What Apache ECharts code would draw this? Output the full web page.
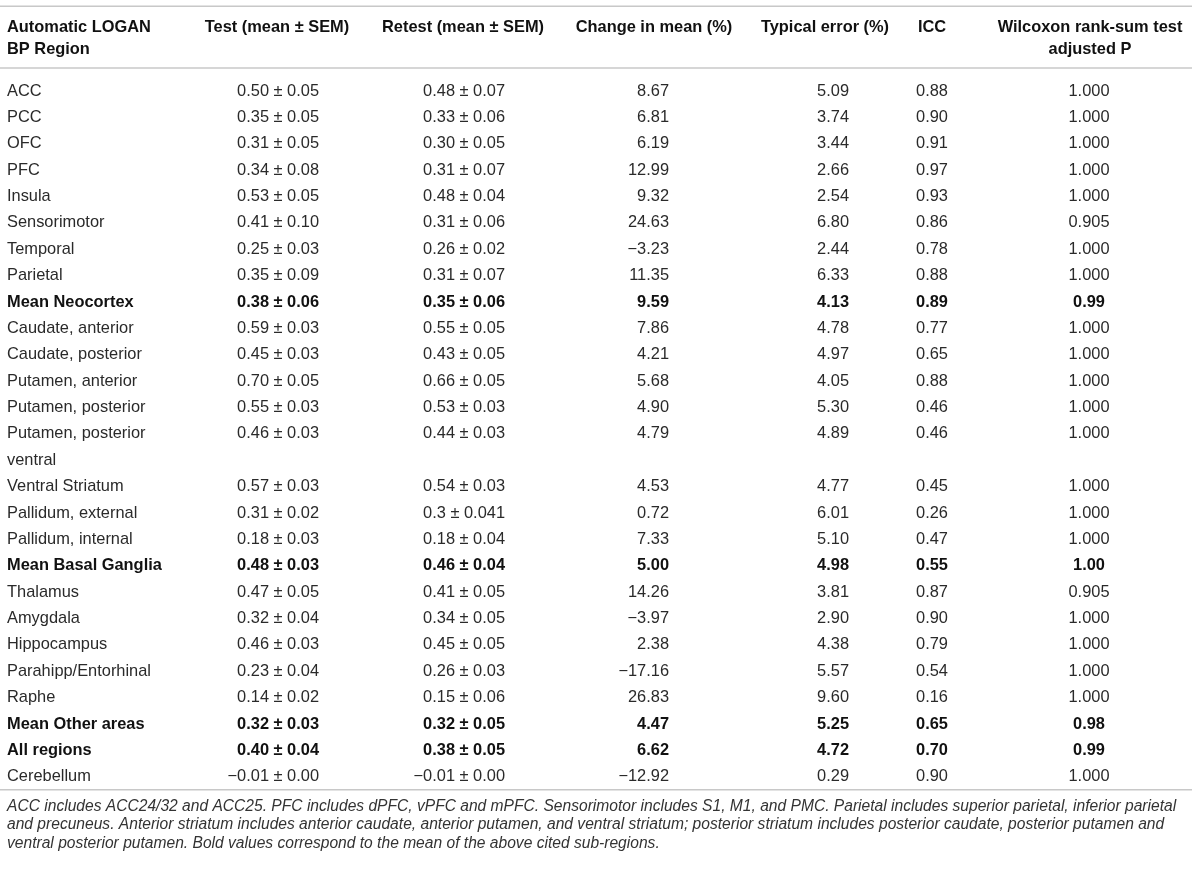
<!DOCTYPE html>
<html lang="en">
  <head>
    <meta charset="UTF-8" />
    <title>LOGAN BP test-retest</title>
    <script src="https://cdn.jsdelivr.net/npm/echarts@6/dist/echarts.min.js"></script>
    <style>
      html, body { margin: 0; padding: 0; background: #fff; }
      #main { width: 1200px; height: 870px; }
    </style>
  </head>
  <body>
    <div id="main"></div>
    <script type="text/javascript">
      // table content
      var headers = [
        "Automatic LOGAN\nBP Region",
        "Test (mean ± SEM)",
        "Retest (mean ± SEM)",
        "Change in mean (%)",
        "Typical error (%)",
        "ICC",
        "Wilcoxon rank-sum test\nadjusted P"
      ];
      var regions = [
        "ACC", "PCC", "OFC", "PFC", "Insula", "Sensorimotor", "Temporal", "Parietal",
        "Mean Neocortex", "Caudate, anterior", "Caudate, posterior", "Putamen, anterior",
        "Putamen, posterior", "Putamen, posterior\nventral", "Ventral Striatum",
        "Pallidum, external", "Pallidum, internal", "Mean Basal Ganglia", "Thalamus",
        "Amygdala", "Hippocampus", "Parahipp/Entorhinal", "Raphe", "Mean Other areas",
        "All regions", "Cerebellum"
      ];
      var testVals = [
        "0.50 ± 0.05", "0.35 ± 0.05", "0.31 ± 0.05", "0.34 ± 0.08", "0.53 ± 0.05",
        "0.41 ± 0.10", "0.25 ± 0.03", "0.35 ± 0.09", "0.38 ± 0.06", "0.59 ± 0.03",
        "0.45 ± 0.03", "0.70 ± 0.05", "0.55 ± 0.03", "0.46 ± 0.03", "0.57 ± 0.03",
        "0.31 ± 0.02", "0.18 ± 0.03", "0.48 ± 0.03", "0.47 ± 0.05", "0.32 ± 0.04",
        "0.46 ± 0.03", "0.23 ± 0.04", "0.14 ± 0.02", "0.32 ± 0.03", "0.40 ± 0.04",
        "−0.01 ± 0.00"
      ];
      var retestVals = [
        "0.48 ± 0.07", "0.33 ± 0.06", "0.30 ± 0.05", "0.31 ± 0.07", "0.48 ± 0.04",
        "0.31 ± 0.06", "0.26 ± 0.02", "0.31 ± 0.07", "0.35 ± 0.06", "0.55 ± 0.05",
        "0.43 ± 0.05", "0.66 ± 0.05", "0.53 ± 0.03", "0.44 ± 0.03", "0.54 ± 0.03",
        "0.3 ± 0.041", "0.18 ± 0.04", "0.46 ± 0.04", "0.41 ± 0.05", "0.34 ± 0.05",
        "0.45 ± 0.05", "0.26 ± 0.03", "0.15 ± 0.06", "0.32 ± 0.05", "0.38 ± 0.05",
        "−0.01 ± 0.00"
      ];
      var changeMean = [
        "8.67", "6.81", "6.19", "12.99", "9.32", "24.63", "−3.23", "11.35", "9.59",
        "7.86", "4.21", "5.68", "4.90", "4.79", "4.53", "0.72", "7.33", "5.00",
        "14.26", "−3.97", "2.38", "−17.16", "26.83", "4.47", "6.62", "−12.92"
      ];
      var typicalError = [
        "5.09", "3.74", "3.44", "2.66", "2.54", "6.80", "2.44", "6.33", "4.13",
        "4.78", "4.97", "4.05", "5.30", "4.89", "4.77", "6.01", "5.10", "4.98",
        "3.81", "2.90", "4.38", "5.57", "9.60", "5.25", "4.72", "0.29"
      ];
      var iccVals = [
        "0.88", "0.90", "0.91", "0.97", "0.93", "0.86", "0.78", "0.88", "0.89",
        "0.77", "0.65", "0.88", "0.46", "0.46", "0.45", "0.26", "0.47", "0.55",
        "0.87", "0.90", "0.79", "0.54", "0.16", "0.65", "0.70", "0.90"
      ];
      var wilcoxonP = [
        "1.000", "1.000", "1.000", "1.000", "1.000", "0.905", "1.000", "1.000", "0.99",
        "1.000", "1.000", "1.000", "1.000", "1.000", "1.000", "1.000", "1.000", "1.00",
        "0.905", "1.000", "1.000", "1.000", "1.000", "0.98", "0.99", "1.000"
      ];
      var summaryRows = ["Mean Neocortex", "Mean Basal Ganglia", "Mean Other areas", "All regions"];
      var footnote =
        "ACC includes ACC24/32 and ACC25. PFC includes dPFC, vPFC and mPFC. Sensorimotor includes S1, M1, and PMC. Parietal includes superior parietal, inferior parietal\n" +
        "and precuneus. Anterior striatum includes anterior caudate, anterior putamen, and ventral striatum; posterior striatum includes posterior caudate, posterior putamen and\n" +
        "ventral posterior putamen. Bold values correspond to the mean of the above cited sub-regions.";

      var columns = [regions, testVals, retestVals, changeMean, typicalError, iccVals, wilcoxonP];

      // layout (pixels / row slots)
      var FONT = '"Liberation Sans", Arial, sans-serif';
      var FONT_SIZE = 16.4;
      var ROW_H = 26.38;
      var FIRST_Y = 91;
      var cellAnchor = [[7, "left"], [319, "right"], [505, "right"], [669, "right"], [849, "right"], [932, "center"], [1089, "center"]];
      var headAnchor = [[7, "left"], [277, "center"], [463, "center"], [654, "center"], [825, "center"], [932, "center"], [1090, "center"]];
      var HEAD_SLOT = -2.82;
      var ruleSlots = [-3.21, -0.87, 26.49];
      var RULE_END = 1192;

      // each row starts on the line after the previous row's lines
      var rowSlot = [];
      var acc = 0;
      regions.forEach(function (r) {
        rowSlot.push(acc);
        acc += r.split("\n").length;
      });

      var myChart = echarts.init(document.getElementById("main"), null, { renderer: "canvas" });

      function cellText(x, y, text, align, bold, lh) {
        return {
          type: "text",
          style: {
            text: text,
            x: x,
            y: y,
            align: align,
            verticalAlign: "top",
            lineHeight: lh,
            fontSize: FONT_SIZE,
            fontFamily: FONT,
            fontWeight: bold ? "bold" : "normal",
            fill: bold ? "#111" : "#2a2a2a"
          }
        };
      }

      var option = {
        animation: false,
        grid: { left: 0, right: 0, top: 0, bottom: 0 },
        xAxis: { type: "value", min: 0, max: 1200, show: false },
        yAxis: {
          type: "value",
          inverse: true,
          min: -FIRST_Y / ROW_H,
          max: (870 - FIRST_Y) / ROW_H,
          show: false
        },
        series: [
          {
            // header + rules
            type: "custom",
            data: [0],
            renderItem: function (params, api) {
              var children = [];
              ruleSlots.forEach(function (s) {
                var a = api.coord([0, s]);
                var b = api.coord([RULE_END, s]);
                children.push({
                  type: "line",
                  shape: { x1: a[0], y1: a[1], x2: b[0], y2: b[1] },
                  style: { stroke: "#c8c8c8", lineWidth: 1.5 }
                });
              });
              headers.forEach(function (h, c) {
                var p = api.coord([headAnchor[c][0], HEAD_SLOT]);
                children.push(cellText(p[0], p[1], h, headAnchor[c][1], true, 22));
              });
              return { type: "group", children: children };
            }
          },
          {
            type: "custom",
            data: regions.map(function (r, i) { return i; }),
            renderItem: function (params, api) {
              var i = params.dataIndex;
              var bold = summaryRows.indexOf(regions[i]) >= 0;
              var children = columns.map(function (col, c) {
                var p = api.coord([cellAnchor[c][0], rowSlot[i]]);
                return cellText(p[0], p[1] - ROW_H / 2, col[i], cellAnchor[c][1], bold, ROW_H);
              });
              return { type: "group", children: children };
            }
          }
        ],
        graphic: [
          {
            type: "text",
            left: 7,
            top: 797,
            style: {
              text: footnote,
              fontSize: 15.6,
              fontStyle: "italic",
              fontFamily: FONT,
              lineHeight: 18.5,
              fill: "#333"
            }
          }
        ]
      };

      myChart.setOption(option);
    </script>
  </body>
</html>
